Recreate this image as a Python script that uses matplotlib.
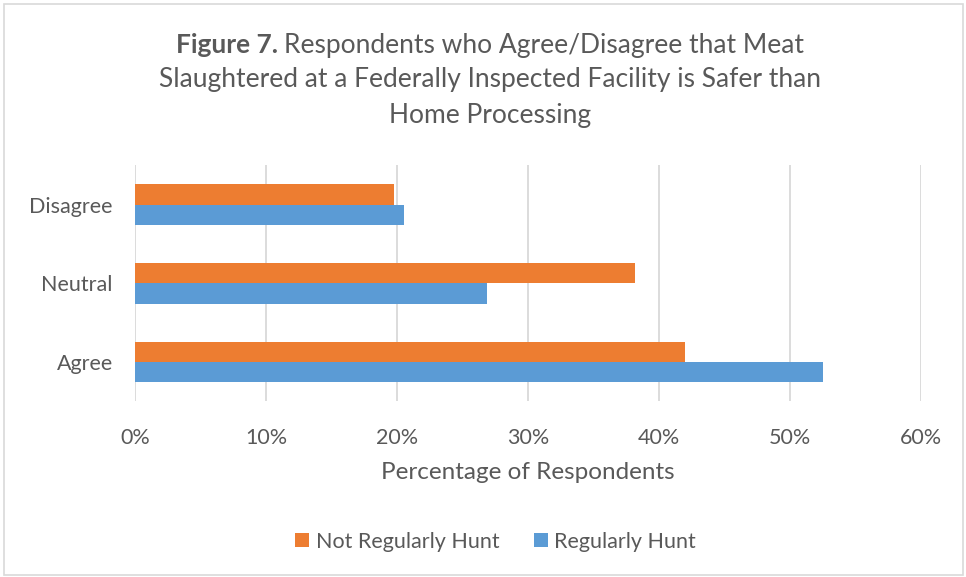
import numpy as np
import matplotlib.pyplot as plt
from matplotlib.patches import Rectangle

# data
categories = ["Agree", "Neutral", "Disagree"]
not_regular = [42.0, 38.2, 19.8]
regular = [52.5, 26.9, 20.5]
xticks = [0, 10, 20, 30, 40, 50, 60]

orange = "#ED7D31"
blue = "#5B9BD5"
grey_text = "#595959"
grid_col = "#D9D9D9"

plt.rcParams['font.family'] = ['Lato', 'DejaVu Sans']

fig = plt.figure(figsize=(9.66, 5.77), dpi=100)
ax = fig.add_axes([0.1398, 0.3045, 0.8136, 0.4089])

y = np.arange(len(categories))
h = 0.26
ax.barh(y + h / 2, not_regular, height=h, color=orange, label="Not Regularly Hunt")
ax.barh(y - h / 2, regular, height=h, color=blue, label="Regularly Hunt")

ax.set_xlim(0, 60)
ax.set_ylim(-0.5, 2.5)
ax.set_xticks(xticks)
ax.set_xticklabels([f"{t}%" for t in xticks])
ax.set_yticks(y)
ax.set_yticklabels(categories)
ax.tick_params(axis='both', length=0, labelsize=15.5, labelcolor=grey_text)
ax.tick_params(axis='x', pad=19)
ax.tick_params(axis='y', pad=16)
ax.grid(axis='x', color=grid_col, linewidth=1.3)
ax.set_axisbelow(True)
for s in ax.spines.values():
    s.set_visible(False)
ax.set_xlabel("Percentage of Respondents", fontsize=17.5, color=grey_text, labelpad=10)

# legend
handles, labels = ax.get_legend_handles_labels()
fig.legend(handles, labels, loc='center', bbox_to_anchor=(0.513, 0.061), ncol=2,
           frameon=False, fontsize=15.5, labelcolor=grey_text, handlelength=0.65,
           handleheight=0.65, handletextpad=0.3, columnspacing=1.6)

# title, first part bold
cx = 0.507
lines_y = [1 - 45 / 577, 1 - 80 / 577, 1 - 115 / 577]
tsize = 19
t1 = fig.text(0, lines_y[0], "Figure 7. ", fontsize=tsize, fontweight='bold', color=grey_text, va='center')
t2 = fig.text(0, lines_y[0], "Respondents who Agree/Disagree that Meat", fontsize=tsize, color=grey_text, va='center')
fig.canvas.draw()
r = fig.canvas.get_renderer()
w1 = t1.get_window_extent(r).width / fig.bbox.width
w2 = t2.get_window_extent(r).width / fig.bbox.width
x0 = cx - (w1 + w2) / 2
t1.set_x(x0)
t2.set_x(x0 + w1)
fig.text(cx, lines_y[1], "Slaughtered at a Federally Inspected Facility is Safer than",
         fontsize=tsize, color=grey_text, ha='center', va='center')
fig.text(cx, lines_y[2], "Home Processing", fontsize=tsize, color=grey_text, ha='center', va='center')

# outer border
fig.patches.append(Rectangle((4 / 966, 2 / 577), 959 / 966, 571 / 577, transform=fig.transFigure,
                             fill=False, edgecolor=grid_col, linewidth=1.2))

fig.savefig("out.png", dpi=100)
